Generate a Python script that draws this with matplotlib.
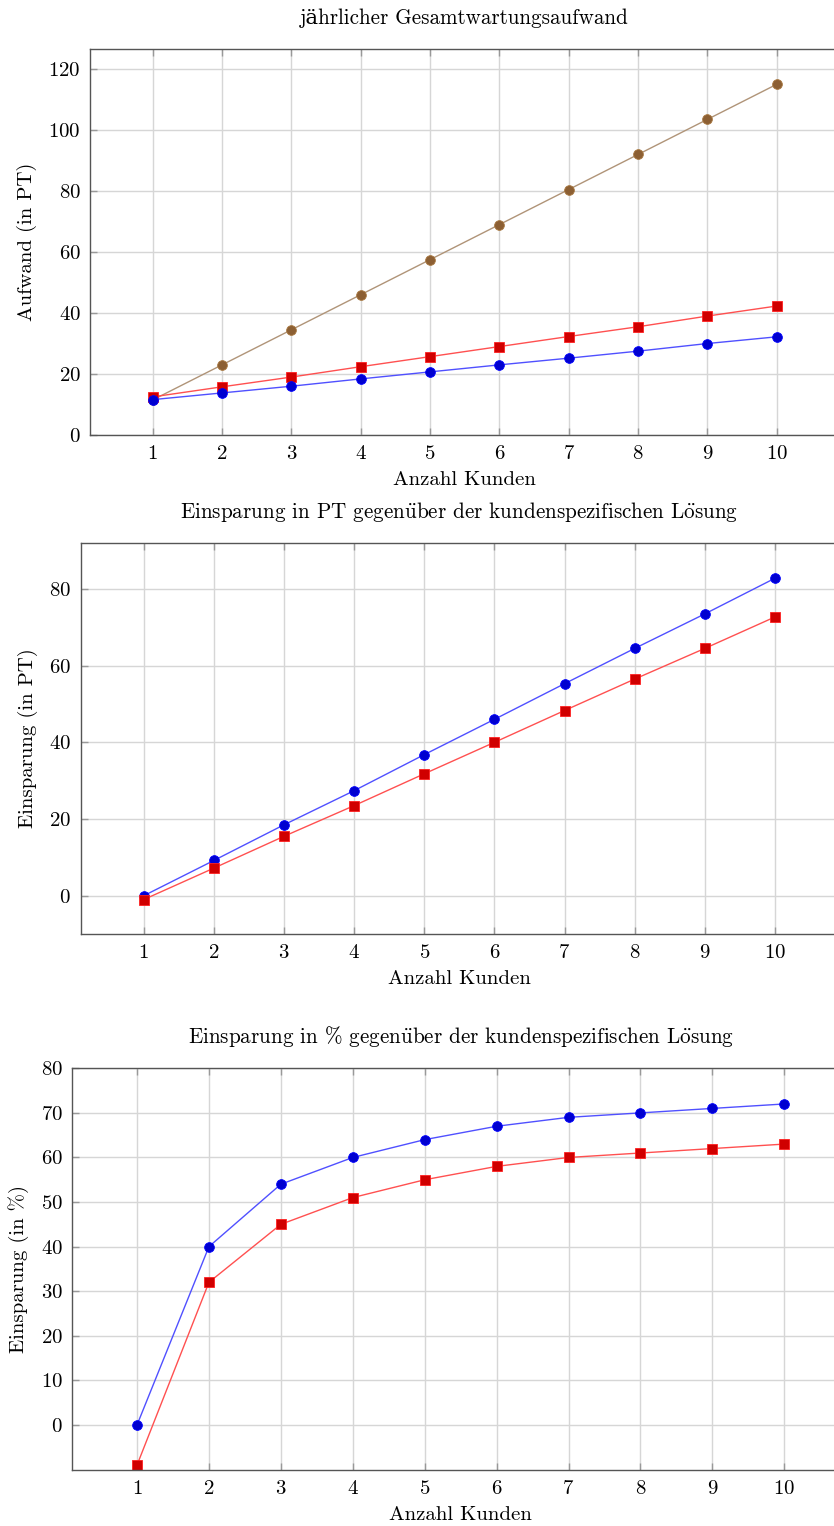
import matplotlib
matplotlib.use("Agg")
import matplotlib.pyplot as plt

plt.rcParams['font.family'] = ['cmr10', 'DejaVu Serif']
plt.rcParams['axes.formatter.use_mathtext'] = True
plt.rcParams['mathtext.fontset'] = 'cm'

kunden = [1, 2, 3, 4, 5, 6, 7, 8, 9, 10]

# Panel 1: jährlicher Gesamtwartungsaufwand (in PT)
aufwand_brown = [11.5, 23, 34.5, 46, 57.5, 69, 80.5, 92, 103.5, 115]
aufwand_red = [12.5, 15.8, 19.0, 22.4, 25.7, 29.0, 32.3, 35.5, 39.0, 42.3]
aufwand_blue = [11.6, 13.8, 16.0, 18.4, 20.7, 23.0, 25.2, 27.5, 30.0, 32.2]

# Panel 2: Einsparung in PT
einsp_pt_blue = [0.0, 9.2, 18.5, 27.4, 36.8, 46.0, 55.3, 64.5, 73.5, 82.8]
einsp_pt_red = [-1.0, 7.2, 15.5, 23.5, 31.8, 40.0, 48.3, 56.5, 64.5, 72.7]

# Panel 3: Einsparung in %
einsp_pct_blue = [0, 40, 54, 60, 64, 67, 69, 70, 71, 72]
einsp_pct_red = [-9, 32, 45, 51, 55, 58, 60, 61, 62, 63]

W, H = 834, 1526
fig = plt.figure(figsize=(W / 100, H / 100), dpi=100)


def make_ax(left, right, top, bottom):
    return fig.add_axes([left / W, 1 - bottom / H, (right - left) / W, (bottom - top) / H])


GRID = '#d6d6d6'
SPINE = '#555555'

styles = {
    'blue': dict(color='#5050ff', marker='o', ms=7.0, mfc='#0000d0', mec='#0000ff', mew=0.6, lw=1.0),
    'red': dict(color='#ff5050', marker='s', ms=6.6, mfc='#d00000', mec='#ff2020', mew=0.6, lw=1.0),
    'brown': dict(color='#b09478', marker='o', ms=7.0, mfc='#8c5f33', mec='#a87840', mew=0.6, lw=1.0),
}

UE = r'$\ddot{\rm u}$'
OE = r'$\ddot{\rm o}$'


def style_ax(ax, title, ylabel, yticks, ylim):
    ax.set_xlim(0.1, 10.9)
    ax.set_ylim(*ylim)
    ax.set_xticks(kunden)
    ax.set_yticks(yticks)
    ax.grid(True, color=GRID, lw=1.0)
    ax.set_axisbelow(True)
    for s in ['left', 'bottom', 'top']:
        ax.spines[s].set_color(SPINE)
        ax.spines[s].set_linewidth(1.0)
    ax.spines['right'].set_visible(False)
    ax.tick_params(axis='both', direction='in', length=5, width=1.0, color='#999999',
                   labelsize=15, top=True, right=False, pad=7)
    ax.set_title(title, fontsize=15.2, pad=18)
    ax.set_xlabel('Anzahl Kunden', fontsize=15, labelpad=6)
    ax.set_ylabel(ylabel, fontsize=15, labelpad=8)


ax1 = make_ax(90.3, 839, 49, 435)
ax1.plot(kunden, aufwand_brown, **styles['brown'])
ax1.plot(kunden, aufwand_red, **styles['red'])
ax1.plot(kunden, aufwand_blue, **styles['blue'])
style_ax(ax1, 'jährlicher Gesamtwartungsaufwand', 'Aufwand (in PT)',
         [0, 20, 40, 60, 80, 100, 120], (0, 126.6))

ax2 = make_ax(80.7, 838, 542.7, 934.3)
ax2.plot(kunden, einsp_pt_blue, **styles['blue'])
ax2.plot(kunden, einsp_pt_red, **styles['red'])
style_ax(ax2, 'Einsparung in PT gegen' + UE + 'ber der kundenspezifischen L' + OE + 'sung',
         'Einsparung (in PT)', [0, 20, 40, 60, 80], (-10.07, 92.08))

ax3 = make_ax(72.3, 849, 1068.3, 1470)
ax3.plot(kunden, einsp_pct_blue, **styles['blue'])
ax3.plot(kunden, einsp_pct_red, **styles['red'])
style_ax(ax3, r'Einsparung in % gegen' + UE + 'ber der kundenspezifischen L' + OE + 'sung',
         r'Einsparung (in %)', [0, 10, 20, 30, 40, 50, 60, 70, 80], (-10.1, 80))

fig.savefig('out.png', dpi=100)
